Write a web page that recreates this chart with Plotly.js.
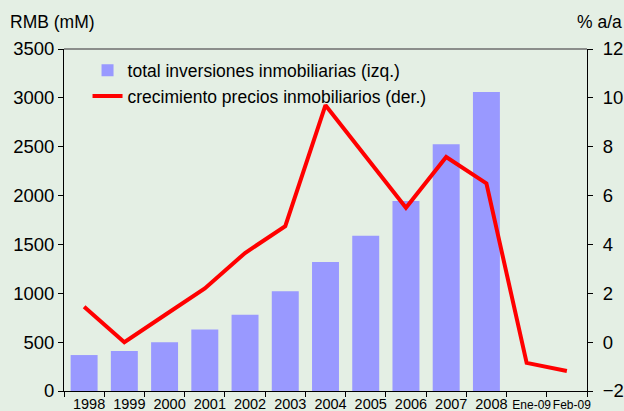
<!DOCTYPE html>
<html>
<head>
<meta charset="utf-8">
<script src="https://cdn.plot.ly/plotly-3.0.1.min.js"></script>
<style>html,body{margin:0;padding:0;background:#E4EFE4;}</style>
</head>
<body>
<div id="chart" style="width:624px;height:411px;"></div>
<script>
var categories = ["1998","1999","2000","2001","2002","2003","2004","2005","2006","2007","2008","Ene-09","Feb-09"];
var tickLabels = ["1998","1999","2000","2001","2002","2003","2004","2005","2006","2007","2008",
  "<span style='font-size:12px'>Ene-09</span>","<span style='font-size:12px'>Feb-09</span>"];
var inversiones = [368, 410, 500, 630, 780, 1020, 1320, 1590, 1945, 2525, 3060, null, null];
var precios = [1.45, 0.0, 1.1, 2.2, 3.65, 4.75, 9.7, 7.6, 5.5, 7.58, 6.5, -0.85, -1.18];

var traces = [
  {type:"bar", x:categories, y:inversiones, name:"total inversiones inmobiliarias (izq.)",
   marker:{color:"#9999FF"}, yaxis:"y"},
  {type:"scatter", mode:"lines", x:categories, y:precios, name:"crecimiento precios inmobiliarios (der.)",
   line:{color:"#FF0000", width:4}, yaxis:"y2"}
];

var layout = {
  width:624, height:411,
  paper_bgcolor:"#E4EFE4", plot_bgcolor:"#E4EFE4",
  margin:{l:64, r:37, t:49, b:20},
  font:{family:"Liberation Sans, Arial, sans-serif", color:"#000"},
  showlegend:true,
  legend:{x:0.045, y:0.99, xanchor:"left", yanchor:"top", bgcolor:"rgba(0,0,0,0)",
          font:{size:17.5}, tracegroupgap:0},
  bargap:0.33,
  xaxis:{type:"category", tickmode:"array", tickvals:categories, ticktext:tickLabels,
         tickson:"boundaries", ticks:"outside", ticklen:5, tickcolor:"#000", tickangle:0,
         ticklabelshift:5,
         showline:true, linecolor:"#000", linewidth:1, mirror:false,
         showgrid:false, tickfont:{size:14.5}, fixedrange:true},
  yaxis:{range:[0,3500], dtick:500, ticks:"outside", ticklen:5, tickcolor:"#000",
         showline:true, linecolor:"#000", linewidth:1, showgrid:false, zeroline:false,
         tickfont:{size:18.5}},
  yaxis2:{range:[-2,12], dtick:2, overlaying:"y", side:"right", ticks:"outside", ticklen:5,
          tickcolor:"#000", showline:true, linecolor:"#000", linewidth:1, showgrid:false,
          zeroline:false, tickfont:{size:18.5}, ticklabelstandoff:6},
  shapes:[
    {type:"line", xref:"paper", yref:"paper", x0:0, x1:1, y0:1, y1:1,
     line:{color:"#6E6E6E", width:1.5}}
  ],
  annotations:[
    {text:"RMB (mM)", xref:"paper", yref:"paper", x:(8-64)/523, y:1+(49-22)/342,
     xanchor:"left", yanchor:"middle", showarrow:false, font:{size:17.5}},
    {text:"% a/a", xref:"paper", yref:"paper", x:(624-64)/523, y:1+(49-22)/342,
     xanchor:"right", yanchor:"middle", showarrow:false, font:{size:17.5}}
  ]
};

Plotly.newPlot("chart", traces, layout, {displayModeBar:false, staticPlot:true});
</script>
</body>
</html>
